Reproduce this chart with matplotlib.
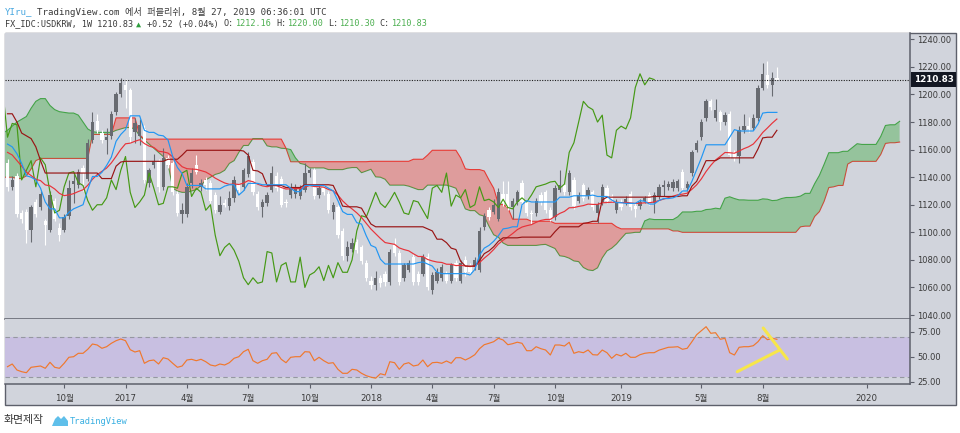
"""USD/KRW weekly chart with Ichimoku cloud and RSI, TradingView look."""
import numpy as np
import pandas as pd
import matplotlib
matplotlib.use("Agg")
import matplotlib.pyplot as plt
from matplotlib.patches import Rectangle, Polygon
from matplotlib.transforms import blended_transform_factory

plt.rcParams["font.family"] = ["DejaVu Sans", "Noto Sans CJK KR"]
MONO = ["DejaVu Sans Mono", "Noto Sans CJK KR"]

# ---- data (weekly bars from 2016-07-11) ----
START = "2016-07-11"
opens = [1150, 1133, 1141, 1114, 1115, 1102, 1122, 1118, 1108, 1102, 1123, 1103, 1102, 1112, 1135, 1134,
         1147, 1139, 1167, 1181, 1172, 1167, 1170, 1187, 1200, 1207, 1203, 1173, 1170, 1175, 1136, 1149,
         1151, 1133, 1154, 1150, 1128, 1113, 1113, 1136, 1149, 1133, 1138, 1136, 1127, 1115, 1121, 1119,
         1125, 1134, 1133, 1142, 1151, 1128, 1118, 1121, 1131, 1141, 1139, 1122, 1127, 1128, 1126, 1131,
         1143, 1145, 1127, 1133, 1128, 1115, 1118, 1101, 1083, 1088, 1093, 1089, 1078, 1065, 1062, 1067,
         1070, 1064, 1091, 1085, 1067, 1073, 1082, 1070, 1070, 1082, 1058, 1065, 1067, 1070, 1065, 1078,
         1065, 1080, 1076, 1075, 1073, 1104, 1116, 1115, 1110, 1128, 1128, 1118, 1122, 1136, 1122, 1114,
         1114, 1127, 1129, 1116, 1111, 1131, 1134, 1129, 1138, 1123, 1134, 1126, 1129, 1114, 1122, 1132,
         1126, 1116, 1122, 1122, 1128, 1119, 1119, 1123, 1127, 1121, 1126, 1133, 1133, 1132, 1132, 1144,
         1132, 1143, 1160, 1169, 1183, 1195, 1183, 1187, 1180, 1186, 1158, 1155, 1174, 1177, 1176, 1183,
         1205, 1214, 1207, 1212.16]
highs = [1153, 1141, 1143, 1116, 1117, 1120, 1124, 1130, 1110, 1130, 1125, 1107, 1113, 1138, 1143, 1146,
         1149, 1168, 1187, 1186, 1174, 1176, 1188, 1202, 1212, 1211, 1205, 1183, 1182, 1178, 1147, 1157,
         1153, 1161, 1156, 1152, 1130, 1121, 1136, 1147, 1156, 1139, 1140, 1138, 1129, 1126, 1124, 1130,
         1141, 1136, 1147, 1158, 1153, 1130, 1124, 1129, 1148, 1144, 1141, 1124, 1136, 1135, 1134, 1150,
         1147, 1147, 1134, 1135, 1130, 1122, 1120, 1103, 1094, 1096, 1095, 1091, 1080, 1068, 1072, 1069,
         1072, 1088, 1096, 1087, 1078, 1080, 1084, 1072, 1084, 1085, 1071, 1074, 1077, 1072, 1078, 1080,
         1080, 1083, 1078, 1082, 1104, 1114, 1118, 1124, 1132, 1137, 1137, 1125, 1131, 1138, 1124, 1116,
         1125, 1129, 1131, 1118, 1134, 1145, 1136, 1145, 1140, 1129, 1136, 1133, 1131, 1122, 1135, 1134,
         1128, 1124, 1124, 1126, 1130, 1121, 1124, 1126, 1129, 1129, 1135, 1138, 1137, 1139, 1139, 1146,
         1137, 1160, 1167, 1182, 1197, 1197, 1197, 1189, 1187, 1188, 1160, 1177, 1186, 1184, 1186, 1207,
         1223, 1224, 1216, 1220.00]
lows = [1130, 1131, 1111, 1107, 1092, 1093, 1111, 1116, 1091, 1100, 1108, 1094, 1100, 1110, 1121, 1132,
        1130, 1137, 1165, 1172, 1165, 1157, 1168, 1185, 1198, 1190, 1165, 1165, 1163, 1136, 1133, 1147,
        1129, 1131, 1147, 1127, 1112, 1107, 1111, 1132, 1142, 1130, 1131, 1121, 1114, 1113, 1118, 1116,
        1122, 1129, 1131, 1140, 1127, 1116, 1111, 1119, 1129, 1130, 1118, 1118, 1125, 1125, 1124, 1129,
        1140, 1124, 1125, 1127, 1114, 1110, 1096, 1080, 1079, 1086, 1085, 1077, 1065, 1059, 1058, 1060,
        1061, 1062, 1083, 1062, 1065, 1071, 1062, 1062, 1068, 1058, 1055, 1063, 1065, 1063, 1063, 1065,
        1063, 1068, 1069, 1073, 1071, 1102, 1109, 1113, 1108, 1119, 1116, 1110, 1120, 1120, 1112, 1106,
        1112, 1120, 1114, 1108, 1109, 1129, 1127, 1127, 1117, 1121, 1123, 1124, 1116, 1107, 1120, 1121,
        1122, 1114, 1116, 1120, 1116, 1111, 1117, 1121, 1120, 1114, 1124, 1126, 1131, 1130, 1130, 1130,
        1130, 1141, 1158, 1167, 1181, 1189, 1181, 1174, 1178, 1154, 1152, 1150, 1172, 1173, 1174, 1181,
        1203, 1205, 1199, 1210.30]
closes = [1133, 1138, 1113, 1110, 1102, 1118, 1113, 1128, 1105, 1127, 1110, 1098, 1111, 1132, 1137, 1144,
          1143, 1165, 1180, 1174, 1167, 1169, 1186, 1200, 1208, 1203, 1169, 1179, 1178, 1138, 1145, 1152,
          1133, 1154, 1149, 1129, 1114, 1116, 1133, 1143, 1144, 1136, 1134, 1123, 1116, 1120, 1120, 1125,
          1138, 1131, 1145, 1155, 1129, 1118, 1122, 1127, 1143, 1132, 1120, 1121, 1133, 1133, 1132, 1143,
          1145, 1126, 1132, 1129, 1116, 1120, 1098, 1083, 1089, 1092, 1087, 1079, 1067, 1062, 1067, 1063,
          1064, 1086, 1085, 1064, 1076, 1078, 1064, 1064, 1082, 1060, 1069, 1071, 1075, 1065, 1076, 1067,
          1078, 1071, 1071, 1080, 1101, 1112, 1111, 1120, 1129, 1121, 1118, 1123, 1129, 1122, 1114, 1113,
          1123, 1122, 1116, 1110, 1132, 1134, 1129, 1143, 1119, 1127, 1125, 1131, 1118, 1120, 1133, 1123,
          1124, 1122, 1118, 1124, 1118, 1117, 1122, 1125, 1122, 1127, 1133, 1134, 1135, 1136.5, 1137, 1132,
          1135, 1158, 1165, 1180, 1195, 1191, 1189, 1180, 1185, 1156, 1154, 1174, 1177, 1175, 1183, 1205,
          1215, 1207, 1212, 1210.83]

tenkan_head = [1164, 1162, 1157, 1150, 1141, 1140, 1138, 1132]
kijun_head = [1186, 1186, 1180, 1172, 1170, 1168, 1162, 1152, 1143, 1143, 1143, 1143, 1143, 1143,
              1143, 1143, 1143, 1143, 1143, 1143, 1139, 1139, 1139, 1148, 1151]
ema_start = 1158  # 20-week EMA value at the first bar
# leading spans as plotted, bar -1 .. 50 (A) and bar -1 .. 76 (B)
span_a_head = [1172, 1174, 1177, 1180, 1182, 1184, 1190, 1195, 1197, 1197, 1192, 1189, 1187.5, 1187,
               1186.5, 1186.5, 1185, 1180, 1175, 1173, 1172.5, 1172.5, 1172.5, 1172.5, 1174, 1175, 1176,
               1176, 1175, 1170, 1167, 1164, 1161, 1158, 1155, 1150, 1132, 1130, 1129, 1129, 1130, 1131,
               1134, 1138, 1140, 1142, 1143, 1145, 1150, 1152, 1158, 1163]
span_b_head = ([1140, 1140, 1140, 1139, 1139, 1141, 1146, 1152] + [1153.6] * 11 + [1171] * 5
               + [1183] * 5 + [1170.6] + [1167.6] * 30 + [1161] + [1151.2] * 17)

rsi = [40, 42.7, 36.7, 35, 34, 39.4, 40, 40.7, 38.4, 44.4, 39.4, 38.4, 43.4, 49.4, 50, 53.4, 53.4,
       57.4, 62.7, 61.7, 58.4, 60, 63.4, 66, 67.7, 66, 57, 54.7, 56, 43.4, 46, 46.7, 42.7, 49, 47.7,
       43.4, 39.4, 40.7, 46.7, 47.4, 46, 47.4, 45, 41.7, 40.7, 42.7, 41.7, 44, 48.4, 50, 55, 57.4, 46,
       43.4, 46, 47.4, 53.4, 54, 47.4, 44, 49.4, 50, 50, 55, 54.7, 46, 49.4, 46, 43.4, 44, 37.4, 33.4,
       33.4, 37.4, 36.7, 33.4, 31, 29.5, 28.5, 33, 31.7, 45, 44, 37.4, 42.7, 44, 40.7, 41.7, 46.7, 40,
       44, 44.4, 43.4, 45.7, 43.4, 49, 49, 46.7, 49, 52, 58, 62, 63.4, 65, 68.4, 66.7, 62, 63, 64.5,
       63.4, 56, 56, 60, 58, 56.7, 51.7, 61.7, 61.7, 60.7, 64.4, 53.4, 55, 54, 56.7, 52, 51.7, 56.7, 54,
       48.4, 52.4, 50.7, 53.4, 49.4, 49.4, 52, 53.4, 54, 54, 56.5, 58, 59.4, 59.6, 60, 57.4, 58.4, 65,
       72, 76, 80, 73.4, 74, 67.4, 68.4, 54, 51.7, 59.4, 60, 60, 61, 65, 71, 67, 68.4, 67.4]

# hand-drawn yellow marks on the RSI pane (bar, rsi)
mark1_x, mark1_y = [154.6, 163.6], [35, 56.7]
mark2_x, mark2_y = [160.1, 165.2], [78.7, 47.7]

tick_months = ["2016-10", "2017-01", "2017-04", "2017-07", "2017-10", "2018-01", "2018-04",
               "2018-07", "2018-10", "2019-01", "2019-05", "2019-08", "2020-01"]
tick_labels = ["10월", "2017", "4월", "7월", "10월", "2018", "4월", "7월", "10월", "2019", "5월",
               "8월", "2020"]

# ---- colours ----
BG = "#d1d4dc"
BORDER = "#5d606b"
UP, DOWN = "#686b71", "#ffffff"
W, H = 960, 433


def fx(x):
    return x / W


def fy(y):
    return 1 - y / H


o, h, l, c = (np.array(v, dtype=float) for v in (opens, highs, lows, closes))
n = len(c)
x = np.arange(n)
dates = pd.date_range(START, periods=n + 40, freq="W-MON")

hs, ls, cs = pd.Series(h), pd.Series(l), pd.Series(c)
tenkan = ((hs.rolling(9).max() + ls.rolling(9).min()) / 2).to_numpy()
tenkan[:len(tenkan_head)] = tenkan_head
kijun = ((hs.rolling(26).max() + ls.rolling(26).min()) / 2).to_numpy()
kijun[:len(kijun_head)] = kijun_head
ema = pd.Series([ema_start] + closes[1:]).ewm(span=20, adjust=False).mean().to_numpy()
span_b_full = ((hs.rolling(52).max() + ls.rolling(52).min()) / 2).to_numpy()

t = np.arange(-1, n + 26)
span_a = np.concatenate([span_a_head, ((tenkan + kijun) / 2)[25:]])
span_b = np.concatenate([span_b_head, span_b_full[51:]])

fig = plt.figure(figsize=(W / 100, H / 100), dpi=100, facecolor="white")
fig.add_artist(Rectangle((fx(5), fy(405)), fx(951), 372 / H, transform=fig.transFigure,
                         facecolor=BG, edgecolor=BORDER, lw=1.0, zorder=0))

ax = fig.add_axes([fx(5), fy(319), fx(905), 286 / H], facecolor=BG)
axr = fig.add_axes([fx(5), fy(384), fx(905), 65 / H], facecolor=BG, sharex=ax)

# cloud: edge lines under the translucent fill
ax.plot(t, span_a, color="#43a047", lw=0.8, zorder=1)
ax.plot(t, span_b, color="#e53935", lw=0.8, zorder=1)
ax.fill_between(t, span_a, span_b, where=span_a >= span_b, interpolate=True,
                color="#4caf50", alpha=0.45, lw=0, zorder=2)
ax.fill_between(t, span_a, span_b, where=span_a < span_b, interpolate=True,
                color="#f44336", alpha=0.38, lw=0, zorder=2)

# candles
up = c >= o
cols = np.where(up, UP, DOWN)
ax.vlines(x, l, h, colors=cols, lw=0.8, zorder=3)
ax.bar(x, np.maximum(np.abs(c - o), 0.6), bottom=np.minimum(o, c), width=0.7,
       color=cols, lw=0, zorder=3)

# ichimoku lines + 20-week EMA
ax.plot(x - 26, c, color="#459915", lw=0.85, zorder=4)
ax.plot(x, ema, color="#e8333a", lw=0.85, zorder=4)
ax.plot(x, kijun, color="#991515", lw=0.85, zorder=4)
ax.plot(x, tenkan, color="#2196f3", lw=0.85, zorder=4)

# last price line and label
ax.axhline(c[-1], color="#1e1e1e", lw=0.8, ls=(0, (1, 1.3)), zorder=5)
tr = blended_transform_factory(ax.transAxes, ax.transData)
ax.text(1.004, c[-1], f"{c[-1]:.2f}", transform=tr, ha="left", va="center", fontsize=6.3,
        color="white", fontweight="bold", clip_on=False, zorder=6,
        bbox=dict(boxstyle="square,pad=0.3", fc="#131722", ec="none"))

ax.set_xlim(-0.53, 191.2)
ax.set_ylim(1037.1, 1244.6)
ax.set_yticks(np.arange(1040, 1241, 20))
ax.set_yticklabels([f"{v:.2f}" for v in np.arange(1040, 1241, 20)])

# RSI pane
axr.axhspan(30, 70, color="#c8bfe1", lw=0, zorder=1)
for lvl in (30, 70):
    axr.axhline(lvl, color="#9598a1", lw=0.8, ls=(0, (4, 3)), zorder=2)
axr.plot(x, rsi, color="#f0782d", lw=0.85, zorder=3)
axr.plot(mark1_x, mark1_y, color="#f7e64a", lw=2.2, solid_capstyle="round", zorder=4)
axr.plot(mark2_x, mark2_y, color="#f7e64a", lw=2.2, solid_capstyle="round", zorder=4)
axr.set_ylim(22.7, 87.7)
axr.set_yticks([25, 50, 75])
axr.set_yticklabels(["25.00", "50.00", "75.00"])

# time ticks: first weekly bar of each labelled month
tick_pos = [int(np.searchsorted(dates, pd.Timestamp(m + "-01"))) for m in tick_months]
axr.set_xticks(tick_pos)
axr.set_xticklabels(tick_labels)

for a in (ax, axr):
    a.yaxis.tick_right()
    a.tick_params(axis="y", length=3, width=0.8, color=BORDER, labelsize=6.0,
                  labelcolor="#3a3a3a", pad=2)
    for side in ("top", "left"):
        a.spines[side].set_visible(False)
    for side in ("right", "bottom"):
        a.spines[side].set_color(BORDER)
        a.spines[side].set_linewidth(1.1)
ax.tick_params(axis="x", bottom=False, labelbottom=False)
axr.tick_params(axis="x", length=3, width=0.8, color=BORDER, labelsize=6.2,
                labelcolor="#3a3a3a", pad=4)

# header
y1, y2 = fy(11.7), fy(24)
fig.text(fx(5), y1, "YIru_", color="#4aa8e0", fontsize=6.6, family=MONO, va="center")
fig.text(fx(37), y1, "TradingView.com 에서 퍼블리쉬, 8월 27, 2019 06:36:01 UTC", color="#3a3a3a",
         fontsize=6.6, family=MONO, va="center")
segs = [(5, "FX_IDC:USDKRW, 1W 1210.83", "#3a3a3a"), (136, "▲", "#2e9e3e"),
        (147, "+0.52 (+0.04%)", "#3a3a3a"), (224, "O:", "#3a3a3a"), (235, "1212.16", "#4caf50"),
        (276, "H:", "#3a3a3a"), (287, "1220.00", "#4caf50"), (328, "L:", "#3a3a3a"),
        (339, "1210.30", "#4caf50"), (379, "C:", "#3a3a3a"), (391, "1210.83", "#4caf50")]
for px, txt, col in segs:
    fig.text(fx(px), y2, txt, color=col, fontsize=6.1, family=MONO, va="center")

# footer
fig.text(fx(4), fy(420), "화면제작", color="#333333", fontsize=7.8, family="Noto Sans CJK KR",
         va="center")
logo = [(52, 426), (55, 419), (58, 416), (61, 419), (64, 416), (68, 421), (68, 426)]
fig.add_artist(Polygon([(fx(a), fy(b)) for a, b in logo], closed=True,
                       transform=fig.transFigure, fc="#5fbfea", ec="none"))
fig.text(fx(70), fy(421), "TradingView", color="#3ab0e2", fontsize=6.3, family=MONO,
         va="center")

fig.savefig("out.png", dpi=100, facecolor="white")
